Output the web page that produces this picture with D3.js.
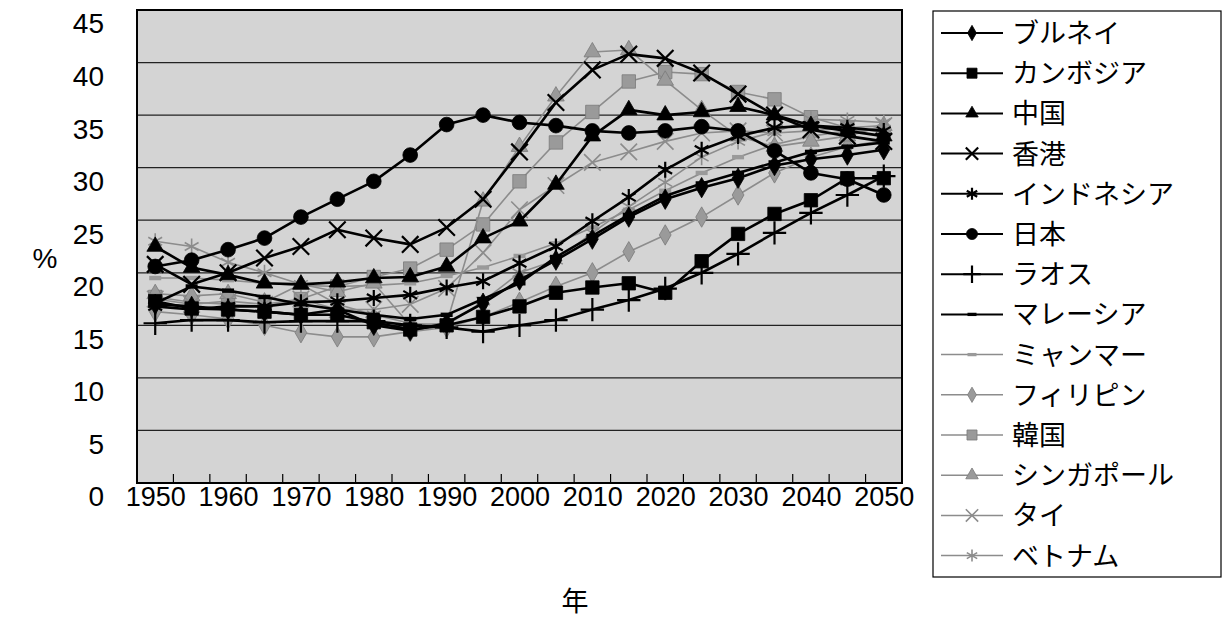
<!DOCTYPE html>
<html>
<head>
<meta charset="utf-8">
<script src="https://cdn.jsdelivr.net/npm/d3@7/dist/d3.min.js"></script>
<style>
  html, body { margin: 0; padding: 0; background: #ffffff; }
  svg { display: block; }
</style>
</head>
<body>
<svg id="chart" width="1224" height="628"></svg>
<script>
// Years on the category axis (every 5 years)
const years = [1950,1955,1960,1965,1970,1975,1980,1985,1990,1995,2000,
               2005,2010,2015,2020,2025,2030,2035,2040,2045,2050];
// Only every other category carries a label
const xTickLabels = ["1950","1960","1970","1980","1990","2000","2010","2020","2030","2040","2050"];
const yTicks = [0,5,10,15,20,25,30,35,40,45];

// Share (%) per country
const brunei    = [17.0,16.8,16.5,16.3,16.0,16.5,15.0,14.5,15.2,17.1,19.3,21.2,23.2,25.3,27.0,28.1,29.0,30.2,30.8,31.2,31.7];
const cambodia  = [17.3,16.6,16.5,16.3,16.0,16.0,15.3,14.6,15.0,15.8,16.8,18.1,18.6,19.0,18.1,21.1,23.7,25.6,26.9,29.0,29.0];
const china     = [22.5,20.5,19.8,19.0,18.9,19.1,19.5,19.6,20.6,23.3,24.9,28.4,33.0,35.5,35.0,35.3,35.8,35.0,34.0,33.5,33.0];
const hongkong  = [20.8,18.9,20.0,21.4,22.5,24.1,23.3,22.7,24.3,27.0,31.5,36.2,39.3,40.8,40.4,39.0,37.0,35.0,33.6,33.0,32.5];
const indonesia = [16.8,16.5,16.8,16.8,17.2,17.3,17.6,17.9,18.6,19.2,20.9,22.5,24.9,27.2,29.8,31.7,33.0,33.8,34.0,33.8,33.5];
const japan     = [20.6,21.2,22.2,23.3,25.3,27.0,28.7,31.2,34.1,35.0,34.3,34.0,33.5,33.3,33.5,33.9,33.5,31.6,29.5,28.9,27.4];
const laos      = [15.2,15.5,15.5,15.3,15.4,15.4,15.4,15.0,14.8,14.4,15.0,15.5,16.5,17.4,18.5,20.0,21.8,23.8,25.7,27.4,29.2];
const malaysia  = [17.1,18.7,18.3,17.7,17.0,16.5,16.0,15.6,16.0,17.5,19.0,21.5,23.5,25.5,27.3,28.5,29.5,30.5,31.5,32.0,32.4];
const myanmar   = [19.5,19.5,19.3,19.0,18.8,18.7,18.8,19.0,19.7,20.5,21.6,22.8,24.3,26.0,27.8,29.5,31.0,32.2,33.0,33.5,33.7];
const philippines = [16.3,16.0,15.6,15.0,14.3,13.9,13.9,14.4,14.8,15.8,17.2,18.7,20.0,22.0,23.6,25.3,27.4,29.5,31.0,32.0,32.6];
const korea     = [17.7,17.2,17.0,16.8,17.5,18.7,19.6,20.4,22.2,24.6,28.7,32.4,35.3,38.2,39.1,38.9,37.2,36.5,34.8,33.8,33.4];
const singapore = [18.0,17.8,18.0,17.2,18.9,18.2,19.0,15.0,15.2,26.8,32.0,36.8,41.0,41.2,38.3,35.5,33.0,32.0,32.5,33.0,34.0];
const thailand  = [17.5,17.0,17.3,17.0,17.5,16.5,16.5,17.0,18.5,21.9,26.0,28.3,30.5,31.5,32.5,33.3,33.5,33.3,33.5,33.8,34.0];
const vietnam   = [23.0,22.5,21.0,20.0,18.9,17.0,16.0,15.2,15.0,17.3,20.0,21.2,23.8,26.3,28.6,31.0,32.5,33.4,34.6,34.5,34.3];

const seriesNames = ["ブルネイ","カンボジア","中国","香港","インドネシア","日本","ラオス",
                     "マレーシア","ミャンマー","フィリピン","韓国","シンガポール","タイ","ベトナム"];
const seriesValues = [brunei,cambodia,china,hongkong,indonesia,japan,laos,
                      malaysia,myanmar,philippines,korea,singapore,thailand,vietnam];

// Drawing style per series: black group with solid markers, grey group with lighter ones
const BLACK = "#000000", GREY = "#8c8c8c", GREYFILL = "#9a9a9a";
const styles = [
  {sym: d3.symbolDiamond,  size: 120, fill: true,  color: BLACK, lw: 2.6},
  {sym: d3.symbolSquare,   size: 180, fill: true,  color: BLACK, lw: 2.6},
  {sym: d3.symbolTriangle, size: 120, fill: true,  color: BLACK, lw: 2.6},
  {sym: d3.symbolTimes,    size: 180, fill: false, color: BLACK, lw: 2.6},
  {sym: d3.symbolAsterisk, size: 180, fill: false, color: BLACK, lw: 2.6},
  {sym: d3.symbolCircle,   size: 170, fill: true,  color: BLACK, lw: 2.6},
  {sym: d3.symbolPlus,     size: 180, fill: false, color: BLACK, lw: 2.6},
  {sym: "dash",            size: 0,   fill: true,  color: BLACK, lw: 2.6},
  {sym: "dash",            size: 0,   fill: true,  color: GREY,  lw: 1.6},
  {sym: d3.symbolDiamond,  size: 120, fill: true,  color: GREY,  lw: 1.6},
  {sym: d3.symbolSquare,   size: 180, fill: true,  color: GREY,  lw: 1.6},
  {sym: d3.symbolTriangle, size: 120, fill: true,  color: GREY,  lw: 1.6},
  {sym: d3.symbolTimes,    size: 180, fill: false, color: GREY,  lw: 1.6},
  {sym: d3.symbolAsterisk, size: 180, fill: false, color: GREY,  lw: 1.6}
];

const svg = d3.select("#chart");
const plot = {left: 137, top: 10, right: 902, bottom: 483};

const x = d3.scalePoint().domain(years).range([plot.left, plot.right]).padding(0.5);
const y = d3.scaleLinear().domain([0, 45]).range([plot.bottom, plot.top]);

// Plot area background
svg.append("rect")
  .attr("x", plot.left).attr("y", plot.top)
  .attr("width", plot.right - plot.left).attr("height", plot.bottom - plot.top)
  .attr("fill", "#d4d4d4");

// Horizontal gridlines
svg.append("g")
  .selectAll("line").data(yTicks.filter(v => v > 0 && v < 45)).join("line")
  .attr("x1", plot.left).attr("x2", plot.right)
  .attr("y1", d => y(d)).attr("y2", d => y(d))
  .attr("stroke", "#222").attr("stroke-width", 1.2);

// Y axis labels
const yAxis = d3.axisLeft(y).tickValues(yTicks).tickSize(0).tickPadding(0);
const gy = svg.append("g").attr("transform", `translate(104,14)`).call(yAxis);
gy.select(".domain").remove();
gy.selectAll("text")
  .attr("font-family", "'Liberation Sans', Arial, sans-serif")
  .attr("font-size", 28).attr("fill", "#000");

// X axis: ticks between categories, labels on every other year
const step = x.step();
const boundaries = years.slice(0, -1).map(yr => x(yr) + step / 2);
svg.append("g")
  .selectAll("line").data(boundaries).join("line")
  .attr("x1", d => d).attr("x2", d => d)
  .attr("y1", plot.bottom).attr("y2", plot.bottom - 9)
  .attr("stroke", "#000").attr("stroke-width", 1.2);

const xAxis = d3.axisBottom(x)
  .tickValues(xTickLabels.map(Number))
  .tickFormat((d, i) => xTickLabels[i])
  .tickSize(0).tickPadding(0);
const gx = svg.append("g").attr("transform", `translate(0,${plot.bottom + 4})`).call(xAxis);
gx.select(".domain").remove();
gx.selectAll("text")
  .attr("font-family", "'Liberation Sans', Arial, sans-serif")
  .attr("font-size", 27).attr("fill", "#000");

// Series lines and markers
function drawMarker(g, st, cx, cy, scale) {
  const k = scale || 1;
  if (st.sym === "dash") {
    g.append("rect")
      .attr("x", cx - 6 * k).attr("y", cy - 2.2 * k)
      .attr("width", 12 * k).attr("height", 4.4 * k)
      .attr("fill", st.color === BLACK ? BLACK : GREYFILL);
    return;
  }
  const p = d3.symbol().type(st.sym).size(st.size * k * k)();
  const m = g.append("path").attr("d", p).attr("transform", `translate(${cx},${cy})`);
  if (st.fill) {
    m.attr("fill", st.color === BLACK ? BLACK : GREYFILL)
     .attr("stroke", st.color === BLACK ? BLACK : "#7a7a7a").attr("stroke-width", 0.8);
  } else {
    m.attr("fill", "none").attr("stroke", st.color).attr("stroke-width", st.color === BLACK ? 2.2 : 1.6);
  }
}

const line = d3.line().x((d, i) => x(years[i])).y(d => y(d));
const plotG = svg.append("g");
// grey series are drawn first so the black ones sit on top
const order = [8,9,10,11,12,13,0,1,2,3,4,5,6,7];
order.forEach(si => {
  const st = styles[si];
  const g = plotG.append("g");
  g.append("path").datum(seriesValues[si]).attr("d", line)
    .attr("fill", "none").attr("stroke", st.color).attr("stroke-width", st.lw)
    .attr("stroke-linejoin", "round");
  seriesValues[si].forEach((v, i) => drawMarker(g, st, x(years[i]), y(v), 1));
});

// Plot border
svg.append("rect")
  .attr("x", plot.left).attr("y", plot.top)
  .attr("width", plot.right - plot.left).attr("height", plot.bottom - plot.top)
  .attr("fill", "none").attr("stroke", "#000").attr("stroke-width", 2);

// Axis titles
svg.append("text").attr("x", 45).attr("y", 268).attr("text-anchor", "middle")
  .attr("font-family", "'Liberation Sans', Arial, sans-serif").attr("font-size", 28)
  .text("%");
svg.append("text").attr("x", 575).attr("y", 611).attr("text-anchor", "middle")
  .attr("font-family", "'Noto Sans CJK JP', sans-serif").attr("font-size", 27)
  .text("年");

// Legend
const legend = svg.append("g");
legend.append("rect").attr("x", 933).attr("y", 11).attr("width", 288).attr("height", 566)
  .attr("fill", "#fff").attr("stroke", "#000").attr("stroke-width", 1.2);
seriesNames.forEach((name, i) => {
  const st = styles[i];
  const cy = 33 + i * 40.2;
  const g = legend.append("g");
  g.append("line").attr("x1", 941).attr("x2", 1003).attr("y1", cy).attr("y2", cy)
    .attr("stroke", st.color).attr("stroke-width", st.color === BLACK ? 2 : 1.5);
  drawMarker(g, st, 972, cy, 0.75);
  g.append("text").attr("x", 1012).attr("y", cy + 10)
    .attr("font-family", "'Noto Sans CJK JP', sans-serif").attr("font-size", 27)
    .attr("fill", "#000").text(name);
});
</script>
</body>
</html>
